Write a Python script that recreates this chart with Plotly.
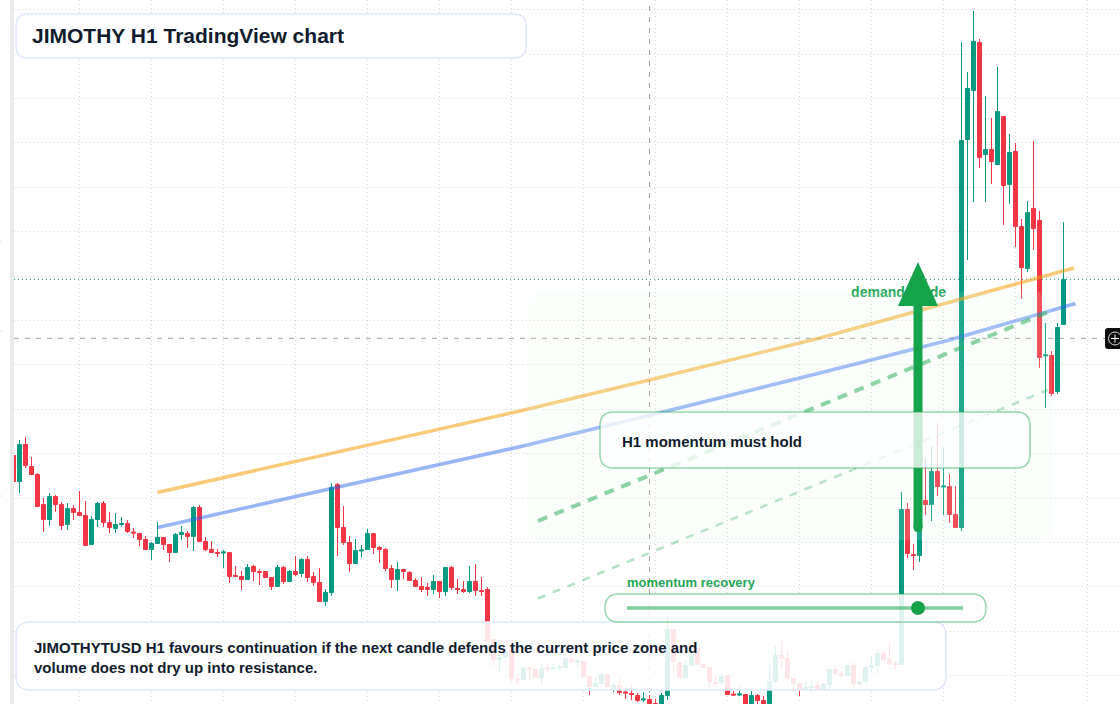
import plotly.graph_objects as go

# Candle data, price units
opens = [249,222,260,238,230,200,184,208,200,179,196,192,189,159,184,201,182,175,179,181,
         172,171,165,154,160,167,160,151,169,171,167,197,163,155,152,151,152,129,128,124,
         138,133,133,127,117,137,122,133,130,145,128,122,102,111,220,177,162,140,153,154,
         171,157,155,136,124,135,132,124,118,117,114,123,112,137,116,115,112,123,114,115,
         65,44,46,55,25,24,36,35,26,36,35,36,36,45,42,43,28,17,20,30,
         14,19,12,11,9,4,5,1,-4,8,75,42,26,38,56,40,37,22,21,29,
         10,9,10,-4,9,4,-4,22,49,46,26,21,14,16,19,14,19,35,31,28,
         39,20,22,36,38,51,45,41,39,195,150,148,204,199,233,217,218,190,176,564,
         613,662,549,555,539,588,519,553,478,435,496,484,348,349,312,379]
highs = [249,264,267,247,231,206,211,209,202,201,199,213,203,188,202,203,192,191,187,184,
         176,171,168,162,182,167,160,171,178,173,198,199,167,163,155,154,152,138,133,140,
         139,135,133,127,139,138,134,148,146,148,132,136,115,221,221,198,168,165,159,175,
         171,158,156,139,142,135,133,126,127,121,129,123,137,138,125,123,138,140,127,117,
         65,49,54,55,30,37,37,35,41,40,41,39,46,47,45,43,28,26,31,30,
         22,26,16,20,11,12,9,5,11,87,75,42,44,50,56,40,37,29,31,29,
         13,19,10,13,10,8,39,58,63,53,26,21,23,24,23,21,35,38,33,39,
         42,23,38,48,54,53,61,43,212,201,160,204,246,258,281,257,230,218,662,632,
         693,665,608,586,637,588,570,561,485,503,563,493,381,353,381,482]
lows = [222,211,236,229,197,172,178,192,174,174,184,188,158,159,177,177,171,171,177,171,
        166,158,154,144,160,154,142,151,164,156,153,162,153,151,147,136,121,127,114,124,
        123,119,126,114,117,120,122,128,127,122,118,102,98,108,148,159,132,140,147,154,
        150,141,133,116,113,125,123,117,112,108,110,106,108,114,110,111,111,108,108,63,
        38,31,46,22,19,24,24,26,19,31,34,34,36,41,37,27,9,17,20,17,
        12,9,5,4,2,2,-6,-6,-6,4,32,26,26,38,39,36,16,19,19,9,
        8,8,-6,-6,0,-6,-6,21,37,23,13,8,14,13,14,14,14,28,27,28,
        17,19,22,31,30,43,39,35,39,146,134,142,189,183,208,189,181,176,173,444,
        502,536,502,520,539,479,500,457,405,432,454,336,296,308,310,379]
closes = [222,260,238,229,197,184,208,199,178,196,191,188,158,185,201,181,176,180,181,172,
          171,164,154,161,167,159,151,170,172,167,197,162,154,151,150,152,127,127,124,137,
          132,131,126,117,137,122,133,129,145,126,121,102,112,217,176,161,140,154,154,171,
          156,154,135,124,135,132,123,117,114,114,123,112,137,116,114,112,123,113,112,63,
          44,47,52,25,24,36,35,26,36,35,37,37,46,42,43,27,17,21,30,17,
          19,11,11,9,3,5,-4,-4,9,75,42,26,39,50,39,36,22,20,28,9,
          9,10,-4,9,3,-4,23,49,45,25,20,14,17,18,14,20,35,30,28,39,
          20,22,37,39,51,44,40,39,195,150,148,200,199,233,217,218,189,176,564,616,
          663,546,555,542,593,518,552,477,436,492,475,346,349,310,377,425]

# Guide lines: candle index and price
orange_x = [24, 54.4, 84.4, 106, 134.4, 176.75]
orange_y = [211.5, 252.5, 293, 324, 366, 436]
blue_x = [24, 41, 53, 84.4, 108.25, 134.4, 156, 177]
blue_y = [176.5, 199.5, 215.5, 257.3, 292, 331, 364, 400.5]
momentum_x = [87.4, 172.25]
momentum_y = [183, 391.5]
recovery_x = [87.4, 172.4]
recovery_y = [105.5, 314]
last_price = 424.7
cross_price = 365.7

TITLE = "JIMOTHY H1 TradingView chart"
NOTE = ("JIMOTHYTUSD H1 favours continuation if the next candle defends the current price zone and<br>"
        "volume does not dry up into resistance.")
HOLD = "H1 momentum must hold"
RECOVERY = "momentum recovery"
DEMAND = "demand guide"

W, H = 1120, 704
FONT = "Liberation Sans"
INK = "#111c2e"
GREEN = "#16a34a"


def px(x):
    return x / W


def py(y):
    return 1 - y / H


def rrect(x0, y0, x1, y1, r, fill, line="rgba(0,0,0,0)", lw=0):
    p = (f"M {px(x0 + r)} {py(y0)} L {px(x1 - r)} {py(y0)} "
         f"Q {px(x1)} {py(y0)} {px(x1)} {py(y0 + r)} L {px(x1)} {py(y1 - r)} "
         f"Q {px(x1)} {py(y1)} {px(x1 - r)} {py(y1)} L {px(x0 + r)} {py(y1)} "
         f"Q {px(x0)} {py(y1)} {px(x0)} {py(y1 - r)} L {px(x0)} {py(y0 + r)} "
         f"Q {px(x0)} {py(y0)} {px(x0 + r)} {py(y0)} Z")
    return dict(type="path", xref="paper", yref="paper", path=p, fillcolor=fill,
                line=dict(color=line, width=lw), layer="above")


def label(x, y, text, size, color=INK):
    return dict(xref="paper", yref="paper", x=px(x - 2), y=py(y), text=f"<b>{text}</b>", showarrow=False,
                xanchor="left", yanchor="middle", align="left",
                font=dict(family=FONT, size=size, color=color))


def inset(first, second):
    """Pull a body end in by half the 1 unit outline so that its edge lands where it was read."""
    if abs(first - second) <= 1:
        return first
    return first + (0.5 if second > first else -0.5)


body_open = [inset(o, c) for o, c in zip(opens, closes)]
body_close = [inset(c, o) for o, c in zip(opens, closes)]

fig = go.Figure()
fig.add_trace(go.Candlestick(
    x=list(range(len(opens))), open=body_open, high=highs, low=lows, close=body_close,
    increasing=dict(line=dict(color="#089981", width=1), fillcolor="#089981"),
    decreasing=dict(line=dict(color="#f23645", width=1), fillcolor="#f23645"),
    whiskerwidth=0, showlegend=False, hoverinfo="skip"))
fig.add_trace(go.Scatter(x=[139.6], y=[410.5], mode="text", text=[f"<b>{DEMAND}</b>"],
                         textposition="middle right", showlegend=False, hoverinfo="skip",
                         textfont=dict(family=FONT, size=14, color="#22a658")))
fig.add_trace(go.Scatter(x=orange_x, y=orange_y, mode="lines", showlegend=False, hoverinfo="skip",
                         line=dict(color="rgba(245,158,11,0.55)", width=3.5)))
fig.add_trace(go.Scatter(x=blue_x, y=blue_y, mode="lines", showlegend=False, hoverinfo="skip",
                         line=dict(color="rgba(37,99,235,0.47)", width=3.5)))
fig.add_trace(go.Scatter(x=momentum_x, y=momentum_y, mode="lines", showlegend=False, hoverinfo="skip",
                         line=dict(color="rgba(22,163,74,0.55)", width=4, dash="10px,8px")))
fig.add_trace(go.Scatter(x=recovery_x, y=recovery_y, mode="lines", showlegend=False, hoverinfo="skip",
                         line=dict(color="rgba(22,163,74,0.33)", width=2.5, dash="8px,8px")))

shapes = [
    # left strip
    dict(type="rect", xref="paper", yref="paper", x0=px(10), x1=px(14), y0=0, y1=1,
         fillcolor="#ebebeb", line_width=0, layer="below"),
    # tiny ticks at the far left edge
    dict(type="line", xref="paper", yref="paper", x0=0, x1=px(2), y0=py(242), y1=py(242),
         line=dict(color="#e4e4e4", width=1), layer="below"),
    dict(type="line", xref="paper", yref="paper", x0=0, x1=px(2), y0=py(331), y1=py(331),
         line=dict(color="#e4e4e4", width=1), layer="below"),
    dict(type="line", xref="paper", yref="paper", x0=0, x1=px(2), y0=py(496), y1=py(496),
         line=dict(color="#e4e4e4", width=1), layer="below"),
    # price line and crosshair
    dict(type="line", xref="paper", yref="y", x0=px(14), x1=1, y0=last_price, y1=last_price,
         line=dict(color="#089981", width=1, dash="1px,3px"), layer="below"),
    dict(type="line", xref="paper", yref="y", x0=px(14), x1=px(1105), y0=cross_price, y1=cross_price,
         line=dict(color="#a0a0a0", width=1, dash="5px,6px"), layer="below"),
    dict(type="line", xref="x", yref="paper", x0=106, x1=106, y0=0, y1=1,
         line=dict(color="#a0a0a0", width=1, dash="5px,6px"), layer="below"),
    # demand zone
    rrect(527, 292, 1052, 540, 14, "rgba(225,252,235,0.13)"),
    # arrow
    dict(type="line", xref="paper", yref="paper", x0=px(918), x1=px(918), y0=py(300), y1=py(527.5),
         line=dict(color=GREEN, width=9)),
    rrect(913.5, 522, 922.5, 532, 4.5, GREEN),
    dict(type="path", xref="paper", yref="paper",
         path=f"M {px(918)} {py(262)} L {px(938)} {py(306)} L {px(898)} {py(306)} Z",
         fillcolor=GREEN, line_width=0, layer="above"),
    # cards
    rrect(16, 14, 526, 58, 12, "rgba(255,255,255,0.88)", "#dfe9fb", 1.5),
    rrect(16, 622, 946, 690, 14, "rgba(255,255,255,0.87)", "#dfe9fb", 1.5),
    rrect(600, 412, 1030, 468, 14, "rgba(255,255,255,0.78)", "rgba(22,163,74,0.45)", 1.5),
    rrect(605, 594, 986, 622, 14, "rgba(255,255,255,0.88)", "rgba(22,163,74,0.45)", 1.5),
    # momentum slider
    dict(type="line", xref="paper", yref="paper", x0=px(627), x1=px(963), y0=py(608), y1=py(608),
         line=dict(color="rgba(22,163,74,0.55)", width=3.5)),
    dict(type="circle", xref="paper", yref="paper", x0=px(911), x1=px(925), y0=py(615), y1=py(601),
         fillcolor=GREEN, line_width=0),
    # crosshair button
    rrect(1105, 328, 1124, 349, 3, "#0c0c0c"),
    dict(type="circle", xref="paper", yref="paper", x0=px(1108.5), x1=px(1121.5), y0=py(345), y1=py(332),
         fillcolor="rgba(0,0,0,0)", line=dict(color="#d8d8d8", width=1)),
    dict(type="line", xref="paper", yref="paper", x0=px(1111), x1=px(1119), y0=py(338.5), y1=py(338.5),
         line=dict(color="white", width=1)),
    dict(type="line", xref="paper", yref="paper", x0=px(1115), x1=px(1115), y0=py(334.5), y1=py(342.5),
         line=dict(color="white", width=1)),
]

annotations = [
    label(32, 35.5, TITLE, 21),
    label(34, 657, NOTE, 15),
    label(622, 441, HOLD, 15),
    label(627, 582.5, RECOVERY, 13, "#22a658"),
]

grid = dict(showgrid=True, gridcolor="#d8d8d8", gridwidth=1, griddash="1px,3px", zeroline=False,
            showline=False, showticklabels=False, ticks="", fixedrange=True)
fig.update_layout(
    width=W, height=H, margin=dict(l=0, r=0, t=0, b=0), autosize=False,
    paper_bgcolor="white", plot_bgcolor="white", showlegend=False, boxgap=0.33, boxgroupgap=0,
    xaxis=dict(domain=[14 / W, 1], range=[0.0833, 184.417], tick0=11, dtick=12,
               rangeslider=dict(visible=False), **grid),
    yaxis=dict(range=[0, 704], tick0=28.4, dtick=44.4, **grid),
    shapes=shapes, annotations=annotations)

fig.write_html("out.html", config=dict(displayModeBar=False),
               post_script="document.body.style.margin='0';document.documentElement.style.overflow='hidden';")
